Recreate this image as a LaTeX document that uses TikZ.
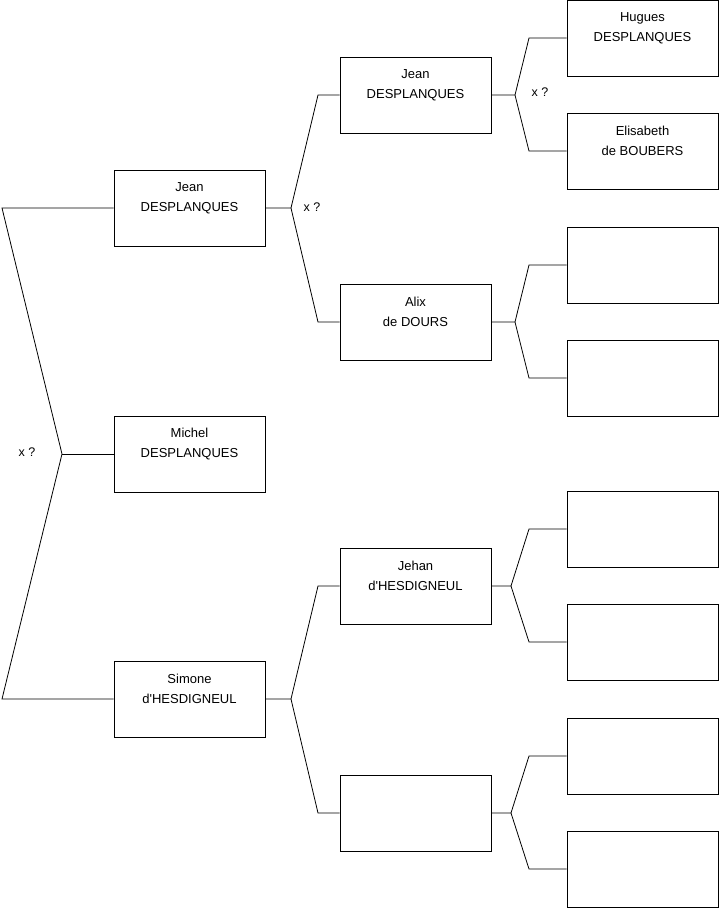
\documentclass[tikz,border=0pt]{standalone}
\usepackage{fontspec}
\setmainfont{Liberation Sans}[Ligatures=TeXOff]
\begin{document}
\begin{tikzpicture}[x=1pt,y=-1pt,
  box/.style={draw, minimum width=151pt, minimum height=76pt, inner sep=0pt, line width=0.8pt},
  txt/.style={align=center, font=\fontsize{13}{20}\selectfont, inner sep=0pt},
  conn/.style={line width=0.8pt},
  xmark/.style={font=\fontsize{12.5}{14}\selectfont, inner sep=0pt}]
\useasboundingbox (0,0) rectangle (719,908);
% level 1
\node[box, label={[txt,yshift=10pt]center:Jean\\DESPLANQUES}] (j1) at (189.5,208) {};
\node[box, label={[txt,yshift=10pt]center:Michel\\DESPLANQUES}] (m1) at (189.5,454) {};
\node[box, label={[txt,yshift=10pt]center:Simone\\d'HESDIGNEUL}] (s1) at (189.5,699) {};
% level 2
\node[box, label={[txt,yshift=10pt]center:Jean\\DESPLANQUES}] (j2) at (415.5,95) {};
\node[box, label={[txt,yshift=10pt]center:Alix\\de DOURS}] (a2) at (415.5,322) {};
\node[box, label={[txt,yshift=10pt]center:Jehan\\d'HESDIGNEUL}] (h2) at (415.5,586) {};
\node[box] (e2) at (415.5,813) {};
% level 3
\node[box, label={[txt,yshift=10pt]center:Hugues\\DESPLANQUES}] (hu3) at (642.5,38) {};
\node[box, label={[txt,yshift=10pt]center:Elisabeth\\de BOUBERS}] (el3) at (642.5,151) {};
\node[box] (b3) at (642.5,265) {};
\node[box] (b4) at (642.5,378) {};
\node[box] (b5) at (642.5,529) {};
\node[box] (b6) at (642.5,642) {};
\node[box] (b7) at (642.5,756) {};
\node[box] (b8) at (642.5,869) {};
% junction coordinates
\coordinate (k0) at (62,454);
\coordinate (k0a) at (2,208);
\coordinate (k0b) at (2,699);
\coordinate (k1) at (291,208);
\coordinate (k1a) at (318,95);
\coordinate (k1b) at (318,322);
\coordinate (k2) at (291,699);
\coordinate (k2a) at (318,586);
\coordinate (k2b) at (318,813);
\coordinate (k3) at (515,95);
\coordinate (k3a) at (529,38);
\coordinate (k3b) at (529,151);
\coordinate (k4) at (515,322);
\coordinate (k4a) at (529,265);
\coordinate (k4b) at (529,378);
\coordinate (k5) at (511,586);
\coordinate (k5a) at (529,529);
\coordinate (k5b) at (529,642);
\coordinate (k6) at (511,813);
\coordinate (k6a) at (529,756);
\coordinate (k6b) at (529,869);
% connectors
\draw[conn] (j1.west) -- (k0a) -- (k0) -- (k0b) -- (s1.west);
\draw[conn] (k0) -- (m1.west);
\draw[conn] (j1.east) -- (k1) -- (k1a) -- (j2.west);
\draw[conn] (k1) -- (k1b) -- (a2.west);
\draw[conn] (s1.east) -- (k2) -- (k2a) -- (h2.west);
\draw[conn] (k2) -- (k2b) -- (e2.west);
\draw[conn] (j2.east) -- (k3) -- (k3a) -- (hu3.west);
\draw[conn] (k3) -- (k3b) -- (el3.west);
\draw[conn] (a2.east) -- (k4) -- (k4a) -- (b3.west);
\draw[conn] (k4) -- (k4b) -- (b4.west);
\draw[conn] (h2.east) -- (k5) -- (k5a) -- (b5.west);
\draw[conn] (k5) -- (k5b) -- (b6.west);
\draw[conn] (e2.east) -- (k6) -- (k6a) -- (b7.west);
\draw[conn] (k6) -- (k6b) -- (b8.west);
% x ? marks
\node[xmark] (x0) at (27,452) {x ?};
\node[xmark] (x1) at (312,207) {x ?};
\node[xmark] (x3) at (540,92) {x ?};
\end{tikzpicture}
\end{document}
